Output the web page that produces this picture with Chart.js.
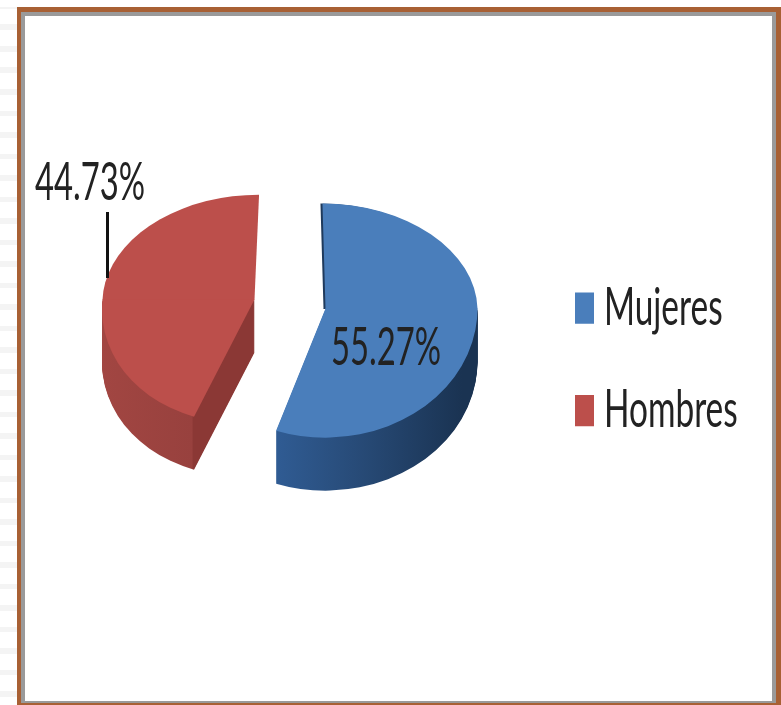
<!DOCTYPE html>
<html lang="es">
<head>
<meta charset="utf-8">
<title>Mujeres y Hombres</title>
<script src="https://cdn.jsdelivr.net/npm/chart.js@4"></script>
<style>
html,body{margin:0;padding:0;background:#fff;width:781px;height:705px;overflow:hidden}
#strip{position:absolute;left:0;top:0;width:17px;height:705px;
  background:repeating-linear-gradient(180deg,#fff 0,#fff 15.5px,#f4f4f4 15.5px,#f4f4f4 21.5px);background-position:0 9px}
#frame{position:absolute;left:17px;top:7px;width:764px;height:698px;box-sizing:border-box;
  border-style:solid;border-color:#a86034;border-width:5px 5px 2px 4px}
#inner{width:100%;height:100%;box-sizing:border-box;border-style:solid;border-color:#9a9a9a;border-width:4px 4px 2px 4px;background:#fff}
canvas{position:absolute;left:0;top:0}
</style>
</head>
<body>
<div id="strip"></div>
<div id="frame"><div id="inner"></div></div>
<canvas id="c" width="781" height="705"></canvas>
<script>
const categories = ['Mujeres', 'Hombres'];
const shares = [55.27, 44.73];
const shareLabels = ['55.27%', '44.73%'];
const topColors = ['#4a7ebb', '#bc4f4b'];

const FONT = 'Lato, "Liberation Sans", sans-serif';
const FONT_SIZE = 41;
const CX = 290, CY = 304, EXPLODE = 36, DEPTH = 53;
const TEXT_STRETCH = 1.25, LEGEND_NARROW = 0.815, LABEL_NARROW = 0.8;
const TOP_SQUASH = [0.69, 0.69], BOTTOM_SQUASH = [0.85, 0.815];
const TOP_SHEAR = [0.02, -0.03], BOTTOM_SHEAR = [0, -0.077];
const LABEL_POS = [[386, 348], [90, 183]];

function wallPaint(ctx, el, i) {
  const g = ctx.createLinearGradient(el.x - el.outerRadius, 0, el.x + el.outerRadius, 0);
  if (i === 0) {
    g.addColorStop(0.33, '#305c94');
    g.addColorStop(0.62, '#274a76');
    g.addColorStop(0.95, '#1a3352');
  } else {
    g.addColorStop(0, '#a24642');
    g.addColorStop(0.33, '#98413e');
    g.addColorStop(0.335, '#8b3835');
    g.addColorStop(1, '#8b3835');
  }
  return g;
}

function drawFlat(ctx, el, i, paint, dy, shiftX, which) {
  const mid = (el.startAngle + el.endAngle) / 2;
  const ax = CX + EXPLODE * Math.cos(mid) + shiftX;
  const ay = CY + EXPLODE * Math.sin(mid) * 0.75 + dy;
  const base = el.options;
  el.options = Object.create(base, {backgroundColor: {value: paint}});
  const parts = [];
  if (which !== 'lower') parts.push([0, ay + 0.5, TOP_SQUASH[i], TOP_SHEAR[i]]);
  if (which !== 'upper') parts.push([ay, 800, BOTTOM_SQUASH[i], BOTTOM_SHEAR[i]]);
  parts.forEach(function (part) {
    ctx.save();
    ctx.beginPath();
    ctx.rect(0, part[0], 781, part[1] - part[0]);
    ctx.clip();
    ctx.transform(1, 0, part[3], part[2], ax, ay);
    ctx.translate(-el.x, -el.y);
    el.draw(ctx);
    ctx.restore();
  });
  el.options = base;
}

const tiltedPie = {
  id: 'tiltedPie',
  afterUpdate(chart) {
    const legend = chart.legend;
    if (legend.__wrapped) return;
    legend.__wrapped = true;
    const orig = legend.draw;
    legend.draw = function () {
      const ctx = chart.ctx, hit = legend.legendHitBoxes[0];
      ctx.save();
      ctx.translate(575, 308);
      ctx.scale(LEGEND_NARROW, TEXT_STRETCH);
      ctx.translate(-hit.left, -(hit.top + hit.height / 2));
      const ft = ctx.fillText;
      const pull = 19 / LEGEND_NARROW + FONT_SIZE / 2 - 29 / LEGEND_NARROW;
      ctx.fillText = function (t, x, y) { ft.call(ctx, t, x - pull, y); };
      orig.call(legend);
      delete ctx.fillText;
      ctx.restore();
    };
  },
  beforeDatasetsDraw(chart) {
    const ctx = chart.ctx, arcs = chart.getDatasetMeta(0).data;
    arcs.forEach(function (el, i) {
      const paint = wallPaint(ctx, el, i);
      for (let d = DEPTH; d >= 1; d--) drawFlat(ctx, el, i, paint, d, 0, 'lower');
      if (i === 0) drawFlat(ctx, el, i, '#1f3a5c', 0, -2, 'upper');
      drawFlat(ctx, el, i, topColors[i], 0, 0, 'both');
    });
    return false;
  },
  afterDraw(chart) {
    const ctx = chart.ctx;
    ctx.save();
    ctx.strokeStyle = '#111';
    ctx.lineWidth = 3;
    ctx.beginPath();
    ctx.moveTo(107.5, 212);
    ctx.lineTo(107.5, 278);
    ctx.stroke();
    ctx.fillStyle = '#222';
    ctx.font = FONT_SIZE + 'px ' + FONT;
    ctx.textAlign = 'center';
    ctx.textBaseline = 'middle';
    shareLabels.forEach(function (t, i) {
      ctx.save();
      ctx.translate(LABEL_POS[i][0], LABEL_POS[i][1]);
      ctx.scale(LABEL_NARROW, TEXT_STRETCH);
      ctx.fillText(t, 0, 0);
      ctx.restore();
    });
    ctx.restore();
  }
};

new Chart(document.getElementById('c'), {
  type: 'pie',
  data: {
    labels: categories,
    datasets: [{data: shares, backgroundColor: topColors, borderWidth: 0, radius: 152}]
  },
  options: {
    responsive: false,
    animation: false,
    plugins: {
      tooltip: {enabled: false},
      legend: {
        position: 'right',
        labels: {
          boxWidth: 19 / LEGEND_NARROW, boxHeight: 25, padding: 41, color: '#222',
          font: {family: FONT, size: FONT_SIZE}
        }
      }
    }
  },
  plugins: [tiltedPie]
});
</script>
</body>
</html>
